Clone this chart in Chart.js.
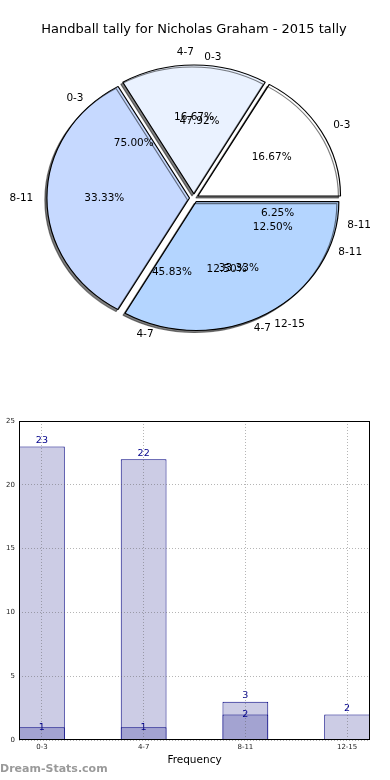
<!DOCTYPE html>
<html>
<head>
<meta charset="utf-8">
<script src="https://cdn.jsdelivr.net/npm/chart.js@4.4.1/dist/chart.umd.min.js"></script>
<style>
body { margin: 0; background: #fff; width: 390px; height: 780px; overflow: hidden; position: relative; }
#pieBox { position: absolute; left: 0; top: 0; width: 390px; height: 400px; }
#barBox { position: absolute; left: 0; top: 400px; width: 390px; height: 380px; }
#mark { position: absolute; left: 0; top: 762px; font: bold 11px "DejaVu Sans"; color: #9a9a9a; }
</style>
</head>
<body>
<div id="pieBox"><canvas id="pieChart" width="390" height="400"></canvas></div>
<div id="barBox"><canvas id="barChart" width="390" height="380"></canvas></div>
<div id="mark">Dream-Stats.com</div>
<script>
// tally per age group
var groups = ["0-3", "4-7", "8-11", "12-15"];
var tallyAll = [23, 22, 3, 2];
var tallyWon = [1, 1, 2, 0];
var yTicks = [0, 5, 10, 15, 20, 25];

// three pies drawn over each other, last one is the one you see
var pieA_labels = ["0-3", "4-7", "8-11"];
var pieA_values = [23, 22, 3];
var pieB_labels = ["0-3", "4-7", "8-11"];
var pieB_values = [6, 1, 1];
var pieC_labels = ["0-3", "4-7", "8-11", "12-15"];
var pieC_values = [1, 1, 2, 2];
var pieC_colors = ['#ffffff', '#eaf2ff', '#c6d9ff', '#b4d5ff'];

var pieLabels = [pieA_labels, pieB_labels, pieC_labels];
var pieValues = [pieA_values, pieB_values, pieC_values];
var squash = 0.904;

Chart.defaults.font.family = '"DejaVu Sans"';

// Pie: squashed into an ellipse, counter clockwise, with shadow and labels
var ellipsePlugin = {
    id: 'ellipse',
    beforeDatasetsDraw: function(chart) {
        var arc = chart.getDatasetMeta(2).data[0];
        var ctx = chart.ctx;
        ctx.save();
        ctx.translate(arc.x, arc.y);
        ctx.scale(1, -squash);
        ctx.translate(-arc.x, -arc.y);
        ctx.shadowColor = 'rgba(0,0,0,0.5)';
        ctx.shadowOffsetX = -2;
        ctx.shadowOffsetY = 2;
    },
    afterDatasetsDraw: function(chart) {
        var ctx = chart.ctx;
        ctx.restore();
        ctx.save();
        ctx.font = '10.5px "DejaVu Sans"';
        ctx.fillStyle = '#000';
        ctx.textBaseline = 'middle';
        for (var d = 0; d < 3; d++) {
            var vals = pieValues[d];
            var total = vals.reduce(function(a, b) { return a + b; }, 0);
            chart.getDatasetMeta(d).data.forEach(function(arc, i) {
                var p = arc.getProps(['x', 'y', 'startAngle', 'endAngle', 'outerRadius'], true);
                var mid = (p.startAngle + p.endAngle) / 2;
                var shift = (arc.options.offset || 0) / 4;
                var rl = 1.1 * p.outerRadius + shift;
                var lx = p.x + rl * Math.cos(mid);
                var ly = p.y - squash * rl * Math.sin(mid);
                ctx.textAlign = lx > p.x + 0.5 ? 'left' : 'right';
                ctx.fillText(pieLabels[d][i], lx, ly);
                var rp = 0.6 * p.outerRadius + shift;
                ctx.textAlign = 'center';
                ctx.fillText((vals[i] / total * 100).toFixed(2) + '%',
                    p.x + rp * Math.cos(mid), p.y - squash * rp * Math.sin(mid));
            });
        }
        ctx.restore();
    }
};

var pieCtx = document.getElementById("pieChart").getContext('2d');
var myPieChart = new Chart(pieCtx, {
    type: 'pie',
    data: {
        labels: pieC_labels,
        datasets: [{
            data: pieA_values,
            weight: 0,
            backgroundColor: 'rgba(0,0,0,0)',
            borderWidth: 0
        }, {
            data: pieB_values,
            weight: 0,
            backgroundColor: 'rgba(0,0,0,0)',
            borderWidth: 0
        }, {
            data: pieC_values,
            weight: 1,
            backgroundColor: pieC_colors,
            borderColor: '#000',
            borderWidth: 1.2,
            offset: 18
        }]
    },
    options: {
        responsive: false,
        animation: false,
        events: [],
        radius: 142,
        rotation: 90,
        layout: { padding: { top: 0, bottom: 41.6, left: 0, right: 2 } },
        plugins: {
            legend: { display: false },
            tooltip: { enabled: false },
            title: {
                display: true,
                text: 'Handball tally for Nicholas Graham - 2015 tally',
                color: '#000',
                font: { size: 13, weight: 'normal' },
                padding: { top: 22, bottom: 0 }
            }
        }
    },
    plugins: [ellipsePlugin]
});

// Bar chart: the two tallies overlap, grid drawn over the bars
var barLabelPlugin = {
    id: 'barLabels',
    afterDatasetsDraw: function(chart) {
        var ctx = chart.ctx;
        ctx.save();
        ctx.font = '9.5px "DejaVu Sans"';
        ctx.fillStyle = '#00008b';
        ctx.textAlign = 'center';
        chart.data.datasets.forEach(function(ds, d) {
            chart.getDatasetMeta(d).data.forEach(function(bar, i) {
                var v = ds.data[i].y;
                if (!v) return;
                if (d === 0) {
                    ctx.textBaseline = 'bottom';
                    ctx.fillText(v, bar.x, bar.y - 1);
                } else {
                    ctx.textBaseline = 'middle';
                    ctx.fillText(v, bar.x, bar.y);
                }
            });
        });
        ctx.restore();
    },
    afterDraw: function(chart) {
        var a = chart.chartArea;
        var ctx = chart.ctx;
        ctx.save();
        ctx.strokeStyle = '#000';
        ctx.lineWidth = 1;
        ctx.strokeRect(a.left + 0.5, a.top + 0.5, a.right - a.left - 1, a.bottom - a.top - 1);
        ctx.restore();
    }
};

var barCtx = document.getElementById("barChart").getContext('2d');
var myBarChart = new Chart(barCtx, {
    type: 'bar',
    data: {
        datasets: [{
            data: tallyAll.map(function(v, i) { return { x: i, y: v }; }),
            backgroundColor: '#ccccE5',
            borderColor: '#000080',
            borderWidth: 1,
            grouped: false,
            order: 1,
            categoryPercentage: 1,
            barPercentage: 0.45
        }, {
            data: tallyWon.map(function(v, i) { return { x: i, y: v }; }),
            backgroundColor: '#a3a3d1',
            borderColor: '#000080',
            borderWidth: 1,
            grouped: false,
            order: 0,
            categoryPercentage: 1,
            barPercentage: 0.45
        }]
    },
    options: {
        responsive: false,
        animation: false,
        events: [],
        layout: { padding: { top: 21, right: 20, left: 0, bottom: 0 } },
        plugins: { legend: { display: false }, tooltip: { enabled: false } },
        scales: {
            x: {
                type: 'linear',
                offset: false,
                min: -0.225,
                max: 3.225,
                afterFit: function(s) { s.height = 40; },
                grid: { color: 'rgba(90,90,90,0.45)', drawTicks: false, offset: false, z: 1 },
                border: { display: false, dash: [1, 2] },
                ticks: {
                    stepSize: 1,
                    includeBounds: false,
                    autoSkip: false,
                    maxRotation: 0,
                    padding: 3,
                    color: '#222',
                    font: { size: 7 },
                    callback: function(v) { return groups[v]; }
                },
                title: {
                    display: true,
                    text: 'Frequency',
                    color: '#000',
                    font: { size: 10.5 },
                    padding: { top: 0, bottom: 13.7 }
                }
            },
            y: {
                min: 0,
                max: 25,
                afterFit: function(s) { s.width = 19; },
                afterBuildTicks: function(s) { s.ticks = yTicks.map(function(v) { return { value: v }; }); },
                grid: { color: 'rgba(90,90,90,0.45)', drawTicks: false, z: 1 },
                border: { display: false, dash: [1, 2] },
                ticks: { padding: 4, color: '#222', font: { size: 7 } }
            }
        }
    },
    plugins: [barLabelPlugin]
});
</script>
</body>
</html>
